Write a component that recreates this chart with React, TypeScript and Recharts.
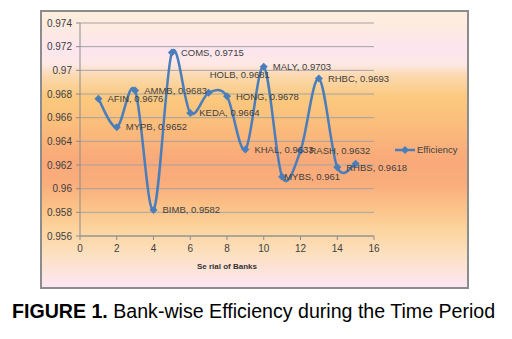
import { LineChart, Line, XAxis, YAxis, CartesianGrid, LabelList } from 'recharts'

const serials = [1, 2, 3, 4, 5, 6, 7, 8, 9, 10, 11, 12, 13, 14, 15]
const banks = ['AFIN', 'MYPB', 'AMMB', 'BIMB', 'COMS', 'KEDA', 'HOLB', 'HONG', 'KHAL', 'MALY', 'MYBS', 'RASH', 'RHBC', 'RHBS', '']
const efficiency = [0.9676, 0.9652, 0.9683, 0.9582, 0.9715, 0.9664, 0.9681, 0.9678, 0.9633, 0.9703, 0.961, 0.9632, 0.9693, 0.9618, 0.9621]
const xTicks = [0, 2, 4, 6, 8, 10, 12, 14, 16]
const yTicks = [0.956, 0.958, 0.96, 0.962, 0.964, 0.966, 0.968, 0.97, 0.972, 0.974]

const data = serials.map((s, i) => ({ serial: s, bank: banks[i], efficiency: efficiency[i] }))

// label nudges, as placed in the original
const labelShift: Record<string, [number, number]> = {
  HOLB: [1, -18],
  MYBS: [2, 0],
}

const BLUE = '#4a7ebb'
const FONT = '"Liberation Sans", Arial, sans-serif'

// excel-ish smoothed line (catmull-rom through the points)
function excelSmooth(context: any) {
  let pts: number[][] = []
  return {
    areaStart() {},
    areaEnd() {},
    lineStart() {
      pts = []
    },
    point(x: number, y: number) {
      pts.push([+x, +y])
    },
    lineEnd() {
      if (!pts.length) return
      context.moveTo(pts[0][0], pts[0][1])
      for (let i = 0; i < pts.length - 1; i++) {
        const p0 = pts[i - 1] || pts[i]
        const p1 = pts[i]
        const p2 = pts[i + 1]
        const p3 = pts[i + 2] || p2
        context.bezierCurveTo(
          p1[0] + (p2[0] - p0[0]) / 6,
          p1[1] + (p2[1] - p0[1]) / 6,
          p2[0] - (p3[0] - p1[0]) / 6,
          p2[1] - (p3[1] - p1[1]) / 6,
          p2[0],
          p2[1],
        )
      }
    },
  }
}

function Diamond({ cx, cy }: any) {
  if (cx == null || cy == null) return null
  const s = 4
  return <path d={`M${cx},${cy - s}L${cx + s},${cy}L${cx},${cy + s}L${cx - s},${cy}Z`} fill={BLUE} />
}

function renderLabel({ x, y, index }: any) {
  const d = data[index]
  if (!d || !d.bank) return null
  const [dx, dy] = labelShift[d.bank] || [9, 0]
  return (
    <text x={x + dx} y={y + dy} dy="0.35em" fontSize={9.5} fill="#404040" fontFamily={FONT}>
      {`${d.bank}, ${d.efficiency}`}
    </text>
  )
}

const fmtY = (v: number) => String(parseFloat(v.toFixed(3)))

export default function App() {
  return (
    <div style={{ position: 'absolute', left: 0, top: 0, width: 512, height: 339, background: '#fff', fontFamily: FONT }}>
      <div
        style={{
          position: 'absolute',
          left: 40,
          top: 10,
          width: 429,
          height: 279,
          boxSizing: 'border-box',
          border: '2px solid #8c8c8c',
          background:
            'linear-gradient(to bottom, #fdeedd 0%, #fdebe0 5%, #fde5ef 13%, #fde8e6 19%, #fcd9b0 23%, #fbc97e 31%, #fbbd7c 41%, #f9a97a 54%, #faae7c 63%, #fbc086 70%, #fcd49e 79%, #fde0c0 88%, #fde6ef 99%)',
        }}
      />
      <div style={{ position: 'absolute', left: 0, top: 0 }}>
        <LineChart width={512} height={300} data={data} margin={{ top: 23, right: 138, left: 0, bottom: 34 }}>
          <CartesianGrid vertical={false} stroke="#a3a3a3" strokeWidth={1} />
          <XAxis
            dataKey="serial"
            type="number"
            domain={[0, 16]}
            ticks={xTicks}
            interval={0}
            height={30}
            tickSize={4}
            tickMargin={5}
            axisLine={{ stroke: '#8c8c8c' }}
            tickLine={{ stroke: '#8c8c8c' }}
            tick={{ fontSize: 10, fill: '#404040', fontFamily: FONT }}
          />
          <YAxis
            type="number"
            domain={[0.956, 0.974]}
            ticks={yTicks}
            interval={0}
            width={80}
            tickSize={4}
            tickMargin={4}
            tickFormatter={fmtY}
            axisLine={{ stroke: '#8c8c8c' }}
            tickLine={{ stroke: '#8c8c8c' }}
            tick={{ fontSize: 10, fill: '#404040', fontFamily: FONT }}
          />
          <Line
            dataKey="efficiency"
            type={excelSmooth as any}
            stroke={BLUE}
            strokeWidth={2.5}
            dot={<Diamond />}
            activeDot={false}
            isAnimationActive={false}
          >
            <LabelList dataKey="efficiency" content={renderLabel} />
          </Line>
        </LineChart>
      </div>
      {/* legend */}
      <svg style={{ position: 'absolute', left: 392, top: 142 }} width={70} height={16}>
        <line x1={3} y1={8} x2={23} y2={8} stroke={BLUE} strokeWidth={2.5} />
        <path d="M13,4L17,8L13,12L9,8Z" fill={BLUE} />
        <text x={25} y={8} dy="0.35em" fontSize={9.5} fill="#404040" fontFamily={FONT}>
          Efficiency
        </text>
      </svg>
      <div
        style={{
          position: 'absolute',
          left: 0,
          width: 454,
          top: 262,
          textAlign: 'center',
          fontSize: 8,
          fontWeight: 'bold',
          color: '#333',
        }}
      >
        Se rial of Banks
      </div>
      <div
        style={{
          position: 'absolute',
          left: 12,
          top: 300,
          fontSize: 19.6,
          whiteSpace: 'nowrap',
          color: '#000',
          fontFamily: 'Arial, "Liberation Sans", sans-serif',
        }}
      >
        <b>FIGURE 1.</b> Bank-wise Efficiency during the Time Period
      </div>
    </div>
  )
}
